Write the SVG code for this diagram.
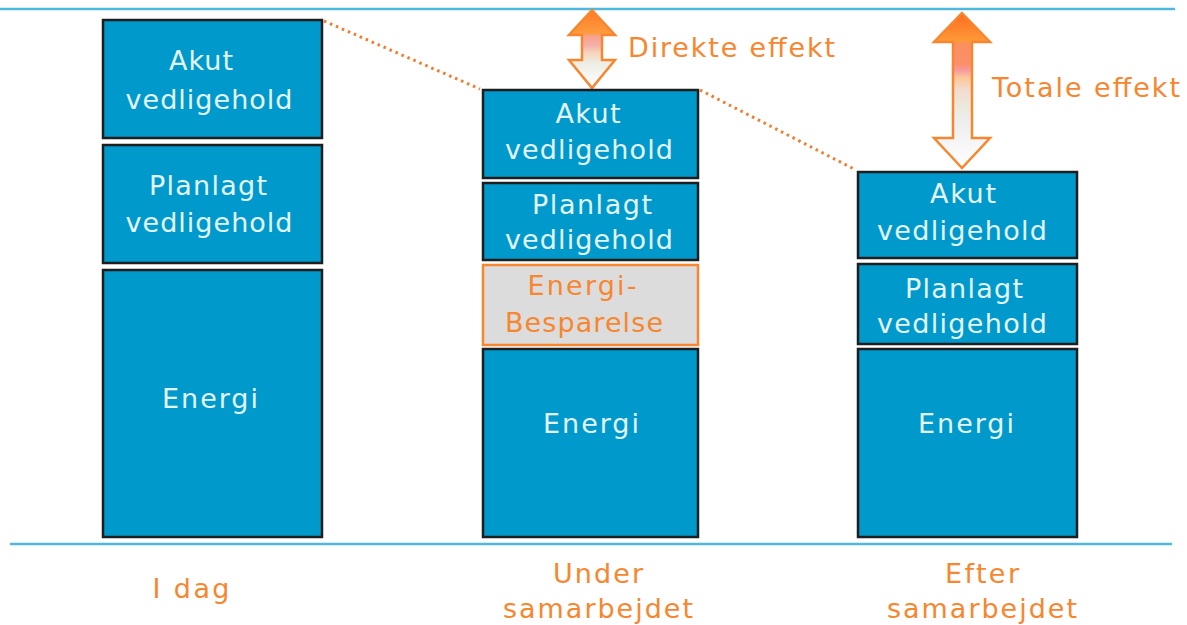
<svg xmlns="http://www.w3.org/2000/svg" width="1187" height="625" viewBox="0 0 1187 625">
<style>
.box{fill:#0099cc;stroke:#1e1e1e;stroke-width:2.5}
.save{fill:#dcdcdc;stroke:#f7862f;stroke-width:2.5}
.bt{font-family:"DejaVu Sans",Verdana,sans-serif;font-size:27px;fill:#e3f5fc;text-anchor:middle}
.ot{font-family:"DejaVu Sans",Verdana,sans-serif;font-size:27px;fill:#f7862f;text-anchor:middle}
.ol{font-family:"DejaVu Sans",Verdana,sans-serif;font-size:27px;fill:#f7862f}
.rule{stroke:#4fb8dd;stroke-width:2.5}
.dots{stroke:#f57a2a;stroke-width:3;stroke-dasharray:2.5 4;fill:none}
.arrow{stroke:#f7862f;stroke-width:2.5}
</style>
<defs>
<linearGradient id="g1" x1="0" y1="0" x2="0" y2="1">
<stop offset="0" stop-color="#ff7a26"/>
<stop offset="0.3" stop-color="#ff9b3e"/>
<stop offset="0.33" stop-color="#f7a08a"/>
<stop offset="0.45" stop-color="#f6b0a8"/>
<stop offset="0.55" stop-color="#f5d4bc"/>
<stop offset="0.68" stop-color="#eeeee6"/>
<stop offset="1" stop-color="#ffffff"/>
</linearGradient>
<linearGradient id="g2" x1="0" y1="0" x2="0" y2="1">
<stop offset="0" stop-color="#ff6a20"/>
<stop offset="0.18" stop-color="#ff9a38"/>
<stop offset="0.2" stop-color="#fb8f5e"/>
<stop offset="0.33" stop-color="#fb8f6a"/>
<stop offset="0.37" stop-color="#f79aa0"/>
<stop offset="0.42" stop-color="#fcc89a"/>
<stop offset="0.5" stop-color="#f2dcd0"/>
<stop offset="0.6" stop-color="#ece8dc"/>
<stop offset="0.7" stop-color="#eeeeee"/>
<stop offset="1" stop-color="#ffffff"/>
</linearGradient>
</defs>

<g id="rules">
<line class="rule" x1="0" y1="9" x2="1175" y2="9"/>
<line class="rule" x1="10" y1="544" x2="1172" y2="544"/>
</g>

<g id="connectors">
<line class="dots" x1="324" y1="21" x2="480" y2="89"/>
<line class="dots" x1="700" y1="90" x2="856" y2="170"/>
<path id="arrow-direkte" class="arrow" fill="url(#g1)" d="M592,10 L615,35 L602,35 L602,60 L615,60 L592,88 L569,60 L582,60 L582,35 L569,35 Z"/>
<path id="arrow-totale" class="arrow" fill="url(#g2)" d="M962,13 L990,42 L972,42 L972,138 L990,138 L962,168 L934,138 L953,138 L953,42 L934,42 Z"/>
</g>

<g id="c1-akut">
<rect class="box" x="103" y="20" width="219" height="118"/>
<text class="bt" x="201" y="70" textLength="64" lengthAdjust="spacing">Akut</text>
<text class="bt" x="209" y="109" textLength="167" lengthAdjust="spacing">vedligehold</text>
</g>
<g id="c1-planlagt">
<rect class="box" x="103" y="145" width="219" height="118"/>
<text class="bt" x="208" y="195" textLength="118" lengthAdjust="spacing">Planlagt</text>
<text class="bt" x="209" y="232" textLength="167" lengthAdjust="spacing">vedligehold</text>
</g>
<g id="c1-energi">
<rect class="box" x="103" y="270" width="219" height="267"/>
<text class="bt" x="210" y="408" textLength="96" lengthAdjust="spacing">Energi</text>
</g>

<g id="c2-akut">
<rect class="box" x="483" y="90" width="215" height="88"/>
<text class="bt" x="588" y="123" textLength="65" lengthAdjust="spacing">Akut</text>
<text class="bt" x="589" y="159" textLength="168" lengthAdjust="spacing">vedligehold</text>
</g>
<g id="c2-planlagt">
<rect class="box" x="483" y="183" width="215" height="77"/>
<text class="bt" x="592" y="214" textLength="120" lengthAdjust="spacing">Planlagt</text>
<text class="bt" x="589" y="249" textLength="168" lengthAdjust="spacing">vedligehold</text>
</g>
<g id="c2-besparelse">
<rect class="save" x="483" y="265" width="215" height="80"/>
<text class="ot" x="582" y="295" textLength="109" lengthAdjust="spacing">Energi-</text>
<text class="ot" x="584" y="332" textLength="158" lengthAdjust="spacing">Besparelse</text>
</g>
<g id="c2-energi">
<rect class="box" x="483" y="349" width="215" height="188"/>
<text class="bt" x="591" y="433" textLength="96" lengthAdjust="spacing">Energi</text>
</g>

<g id="c3-akut">
<rect class="box" x="858" y="172" width="219" height="86"/>
<text class="bt" x="963" y="203" textLength="66" lengthAdjust="spacing">Akut</text>
<text class="bt" x="962" y="240" textLength="170" lengthAdjust="spacing">vedligehold</text>
</g>
<g id="c3-planlagt">
<rect class="box" x="858" y="264" width="219" height="80"/>
<text class="bt" x="964" y="298" textLength="118" lengthAdjust="spacing">Planlagt</text>
<text class="bt" x="962" y="333" textLength="170" lengthAdjust="spacing">vedligehold</text>
</g>
<g id="c3-energi">
<rect class="box" x="858" y="349" width="219" height="188"/>
<text class="bt" x="966" y="433" textLength="96" lengthAdjust="spacing">Energi</text>
</g>

<g id="labels">
<text class="ol" x="628" y="57" textLength="207" lengthAdjust="spacing">Direkte effekt</text>
<text class="ol" x="992" y="97" textLength="188" lengthAdjust="spacing">Totale effekt</text>
<text class="ot" x="191" y="598" textLength="77" lengthAdjust="spacing">I dag</text>
<text class="ot" x="598" y="583" textLength="90" lengthAdjust="spacing">Under</text>
<text class="ot" x="598" y="618" textLength="190" lengthAdjust="spacing">samarbejdet</text>
<text class="ot" x="982" y="583" textLength="74" lengthAdjust="spacing">Efter</text>
<text class="ot" x="982" y="618" textLength="190" lengthAdjust="spacing">samarbejdet</text>
</g>
</svg>
